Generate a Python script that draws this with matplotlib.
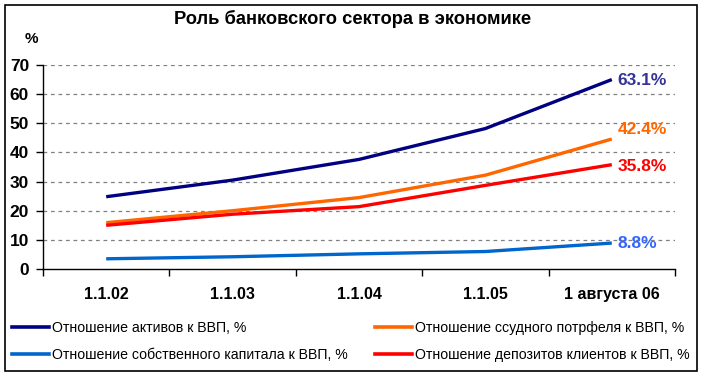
import matplotlib
matplotlib.use("Agg")
import matplotlib.pyplot as plt
from matplotlib.lines import Line2D
from matplotlib.patches import Rectangle

plt.rcParams['font.family'] = ['Liberation Sans', 'DejaVu Sans']

categories = ["1.1.02", "1.1.03", "1.1.04", "1.1.05", "1 августа 06"]
assets = [24.8, 30.5, 37.6, 48.2, 65.0]
loans = [15.9, 20.0, 24.5, 32.2, 44.6]
equity = [3.5, 4.2, 5.2, 6.0, 8.9]
deposits = [15.0, 18.8, 21.4, 28.7, 35.8]

series_names = [
    "Отношение активов к ВВП, %",
    "Отношение ссудного потрфеля к ВВП, %",
    "Отношение собственного капитала к ВВП, %",
    "Отношение депозитов клиентов к ВВП, %",
]
end_labels = ["63.1%", "42.4%", "8.8%", "35.8%"]

line_colors = ["#000080", "#FF6600", "#0066CC", "#FF0000"]
label_colors = ["#333399", "#FF6600", "#3366FF", "#FF0000"]
label_dy_px = [-1, 10, 0, -2]

W, H = 704, 377
fig = plt.figure(figsize=(W / 100, H / 100), dpi=100)
fig.patches.append(Rectangle((5 / W, 6 / H), 692 / W, 366 / H, transform=fig.transFigure,
                             fill=False, edgecolor="black", linewidth=1.2))

ax = fig.add_axes([43 / W, 1 - 269 / H, 632 / W, 204 / H])
x = list(range(len(categories)))
data = [assets, loans, equity, deposits]
for vals, c in zip(data, line_colors):
    ax.plot(x, vals, color=c, linewidth=2.4, solid_capstyle='butt', zorder=3)

ax.set_xlim(-0.5, len(categories) - 0.5)
ax.set_ylim(0, 70)
ax.set_yticks(range(0, 71, 10))
ax.set_yticklabels([str(v) for v in range(0, 71, 10)], fontsize=12.5, fontweight='bold')
ax.set_xticks(x)
ax.set_xticklabels(categories, fontsize=11.5, fontweight='bold')
ax.set_xticks([i - 0.5 for i in range(len(categories) + 1)], minor=True)
ax.tick_params(axis='x', which='major', length=0, pad=13)
ax.tick_params(axis='x', which='minor', length=5, width=1, direction='out')
ax.tick_params(axis='y', length=5, width=1, direction='out', pad=5)
for s in ['top', 'right']:
    ax.spines[s].set_visible(False)
ax.spines['left'].set_linewidth(1)
ax.spines['bottom'].set_linewidth(1)
for yv in range(10, 71, 10):
    ax.axhline(yv, color="#808080", linestyle=(0, (3, 3)), linewidth=0.9, zorder=1)

end_y = [assets[-1], loans[-1], equity[-1], deposits[-1]]
for lbl, yv, c, dy in zip(end_labels, end_y, label_colors, label_dy_px):
    ax.annotate(lbl, xy=(x[-1], yv), xytext=(4.0, dy * 0.72), textcoords='offset points',
                color=c, fontsize=12.5, fontweight='bold', va='center', ha='left',
                annotation_clip=False)

fig.text(353 / W, 1 - 19 / H, "Роль банковского сектора в экономике", ha='center', va='center',
         fontsize=13.2, fontweight='bold')
fig.text(31 / W, 1 - 39 / H, "%", ha='center', va='center', fontsize=11, fontweight='bold')

handles = [Line2D([0], [0], color=c, linewidth=2.6) for c in line_colors]
order = [0, 2, 1, 3]
leg = fig.legend([handles[i] for i in order], [series_names[i] for i in order],
                 loc='upper left', bbox_to_anchor=(12 / W, 1 - 321 / H),
                 ncol=2, frameon=False, fontsize=10.2, handlelength=2.6, handletextpad=0.25,
                 columnspacing=1.9, labelspacing=0.9, borderaxespad=0, borderpad=0)

fig.savefig("out.png", dpi=100)
